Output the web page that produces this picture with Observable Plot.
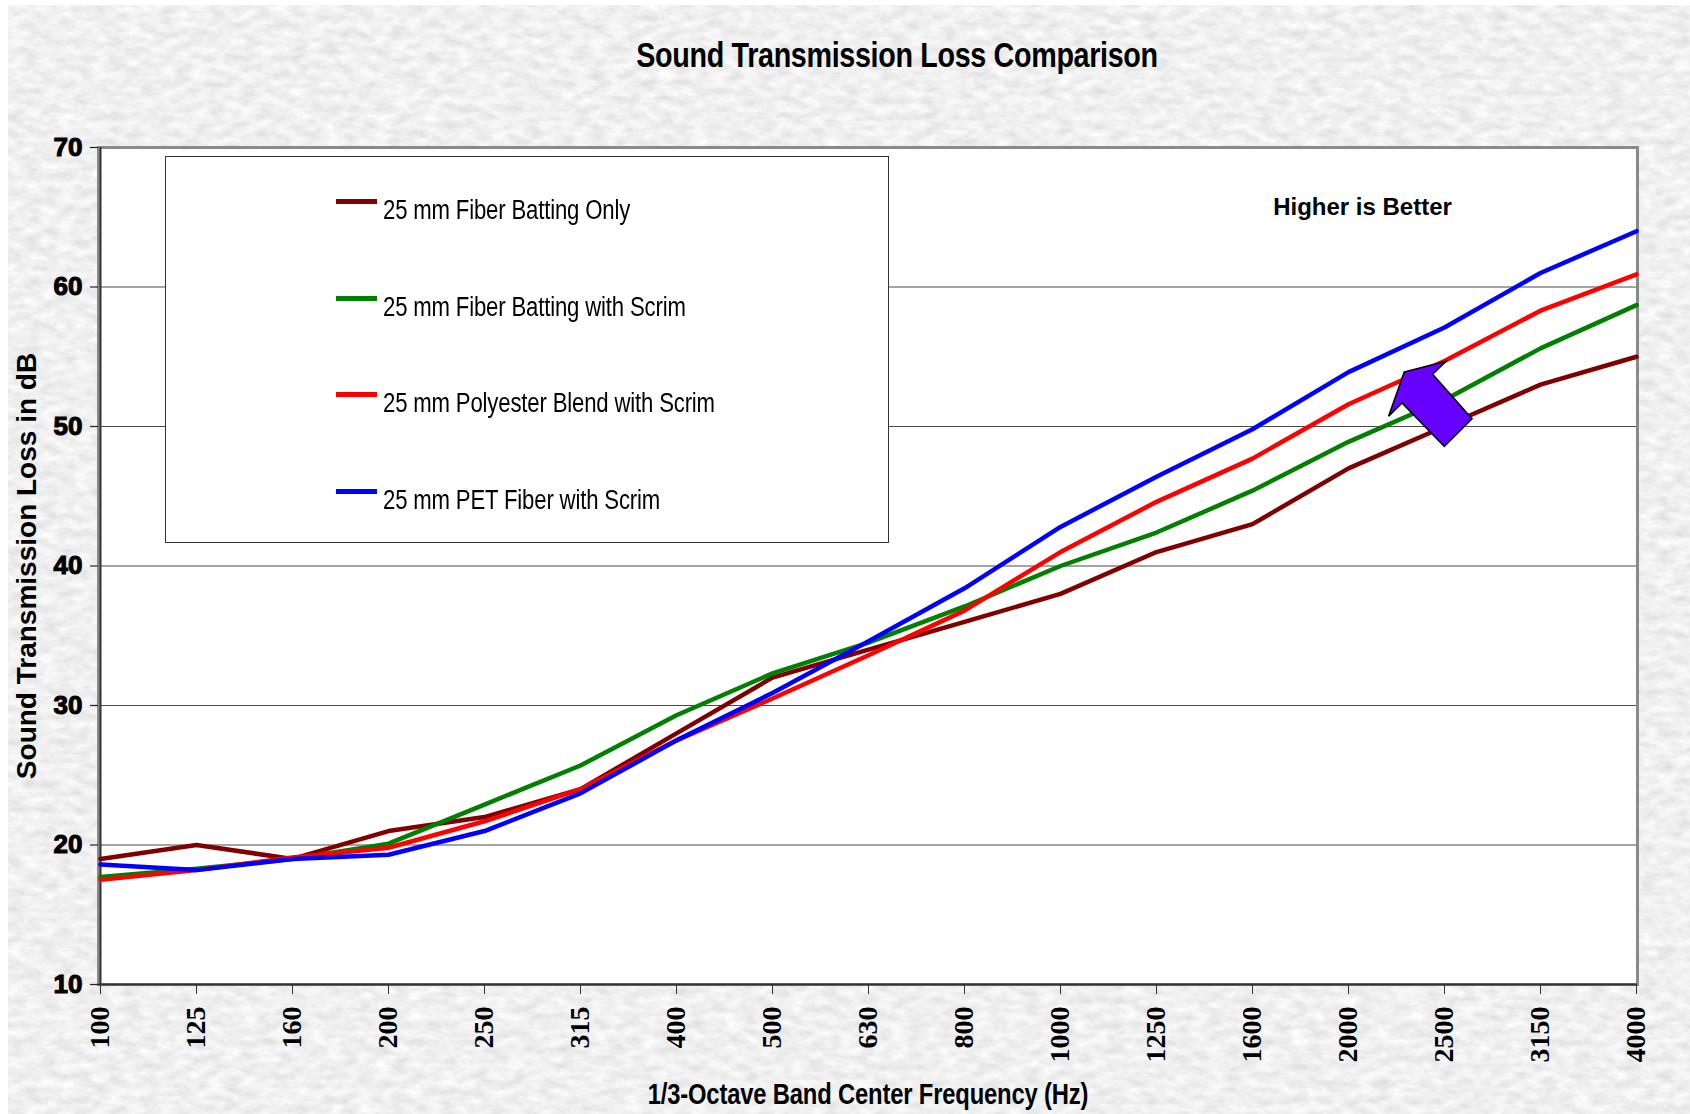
<!DOCTYPE html>
<html>
<head>
<meta charset="utf-8">
<script src="https://cdn.jsdelivr.net/npm/d3@7"></script>
<script src="https://cdn.jsdelivr.net/npm/@observablehq/plot@0.6"></script>
<style>
  html, body { margin: 0; padding: 0; background: #ffffff; }
  #page { position: relative; width: 1690px; height: 1114px; overflow: hidden; background: #ffffff; }
  #bg { position: absolute; left: 8px; top: 5px; }
  #chart { position: absolute; left: 0; top: 0; }
  .abs { position: absolute; white-space: nowrap; color: #000; }
</style>
</head>
<body>
<div id="page">
  <svg id="bg" width="1682" height="1109">
    <filter id="granite" x="0" y="0" width="100%" height="100%">
      <feTurbulence type="fractalNoise" baseFrequency="0.06 0.12" numOctaves="4" seed="7"/>
      <feColorMatrix type="matrix" values="0.34 0 0 0 0.70  0.34 0 0 0 0.70  0.34 0 0 0 0.70  0 0 0 0 1"/>
    </filter>
    <rect width="1682" height="1109" filter="url(#granite)"/>
  </svg>
  <div id="chart"></div>
</div>
<script>
// ---------------- data ----------------
const freqs = ["100","125","160","200","250","315","400","500","630","800","1000","1250","1600","2000","2500","3150","4000"];
const seriesNames = [
  "25 mm Fiber Batting Only",
  "25 mm Fiber Batting with Scrim",
  "25 mm Polyester Blend with Scrim",
  "25 mm PET Fiber with Scrim"
];
const battingOnly  = [19.0, 20.0, 19.0, 21.0, 22.0, 24.0, 28.0, 32.0, 34.0, 36.0, 38.0, 41.0, 43.0, 47.0, 50.0, 53.0, 55.0];
const battingScrim = [17.7, 18.3, 19.0, 20.1, 22.9, 25.7, 29.3, 32.3, 34.5, 37.1, 40.0, 42.4, 45.4, 48.9, 51.9, 55.6, 58.7];
const polyScrim    = [17.5, 18.2, 19.1, 19.8, 21.7, 24.0, 27.5, 30.5, 33.6, 36.8, 41.0, 44.6, 47.7, 51.6, 54.7, 58.3, 60.9];
const petScrim     = [18.6, 18.2, 19.0, 19.3, 21.0, 23.7, 27.5, 30.9, 34.6, 38.4, 42.8, 46.4, 49.8, 53.9, 57.1, 61.0, 64.0];
const seriesColors = ["#800000", "#008000", "#ff0000", "#0000ff"];
const yTicks = [10, 20, 30, 40, 50, 60, 70];
const gridValues = [20, 30, 40, 50, 60];
const titleText = "Sound Transmission Loss Comparison";
const xLabel = "1/3-Octave Band Center Frequency (Hz)";
const yLabel = "Sound Transmission Loss in dB";
const noteText = "Higher is Better";
const arrowAnchor = {freq: "2500", value: 52};

// ------------- font detection -------------
function fontAvailable(name) {
  const c = document.createElement("canvas").getContext("2d");
  const s = "25 mm Fiber Batting Only WWWmmmiii";
  c.font = "24px monospace"; const w1 = c.measureText(s).width;
  c.font = `24px "${name}", monospace`; const w2 = c.measureText(s).width;
  return Math.abs(w1 - w2) > 0.5;
}
const hasNarrow = fontAvailable("Liberation Sans Narrow");
const narrowFamily = hasNarrow ? "'Liberation Sans Narrow', 'Arial Narrow', sans-serif" : "'Liberation Sans', Arial, sans-serif";
const narrowScale = hasNarrow ? 1 : 0.82;

// ------------- build table -------------
const allSeries = [battingOnly, battingScrim, polyScrim, petScrim];
const rows = [];
allSeries.forEach((vals, s) => vals.forEach((v, i) => rows.push({series: seriesNames[s], freq: freqs[i], value: v})));

const W = 1690, H = 1114;
const mL = 98, mR = 53, mT = 147, mB = 130;

function arrowMark(index, scales) {
  const cx = scales.x(arrowAnchor.freq), cy = scales.y(arrowAnchor.value);
  const shape = [[-39.7,-26.1],[2,-36.8],[-11.4,-23.8],[28,20.5],[0.3,48.2],[-42,4.9],[-55.4,18.2]];
  const d = "M" + shape.map(([dx, dy]) => `${cx + dx},${cy + dy}`).join("L") + "Z";
  return d3.create("svg:path").attr("d", d).attr("fill", "#6600ff")
    .attr("stroke", "#000").attr("stroke-width", 1.6).attr("stroke-linejoin", "miter").node();
}

const chart = Plot.plot({
  width: W, height: H,
  marginLeft: mL, marginRight: mR, marginTop: mT, marginBottom: mB,
  style: {background: "transparent", color: "#000", overflow: "visible"},
  x: {type: "point", domain: freqs, padding: 0},
  y: {domain: [10, 70]},
  color: {domain: seriesNames, range: seriesColors},
  marks: [
    Plot.frame({fill: "#ffffff"}),
    Plot.ruleY(gridValues, {stroke: "#4a4a4a", strokeWidth: 1}),
    Plot.frame({stroke: "#8a8a8a", strokeWidth: 3}),
    Plot.ruleY([10], {stroke: "#333", strokeWidth: 2}),
    Plot.ruleX([freqs[0]], {stroke: "#333", strokeWidth: 2}),
    Plot.axisY({ticks: yTicks, tickSize: 8, tickPadding: 8, label: null,
      fontSize: 26, fontWeight: "900", fontFamily: "'Liberation Sans', Arial, sans-serif", fill: "#000",
      stroke: "#222", strokeWidth: 1.2}),
    Plot.axisX({tickSize: 10, tickPadding: 12, tickRotate: -90, label: null,
      fontSize: 28, fontWeight: "bold", fontFamily: "'Liberation Serif', 'Times New Roman', serif", fill: "#000", stroke: "#333"}),
    Plot.text([yLabel], {frameAnchor: "left", dx: -71, rotate: -90, textAnchor: "middle", lineAnchor: "middle",
      fontSize: 28, fontWeight: "bold", fontFamily: "'Liberation Sans', Arial, sans-serif", fill: "#000", letterSpacing: "0.9px"}),
    Plot.line(rows, {x: "freq", y: "value", z: "series", stroke: "series", strokeWidth: 4.5, strokeLinejoin: "miter"}),
    Plot.text([noteText], {frameAnchor: "top-right", dx: -275, dy: 60, textAnchor: "middle", lineAnchor: "middle",
      fontSize: 24, fontWeight: "bold", fontFamily: "'Liberation Sans', Arial, sans-serif", fill: "#000", letterSpacing: "-0.5px"}),
    arrowMark
  ]
});
document.getElementById("chart").appendChild(chart);
// heavier y tick labels (Arial Black look)
d3.select(chart).selectAll('[aria-label="y-axis tick label"] text')
  .attr("stroke", "#000").attr("stroke-width", 1.1).attr("paint-order", "stroke");

// ------------- HTML overlays: title, legend, x label -------------
const page = document.getElementById("page");
function addText(txt, cx, cy, size, weight, anchor) {
  const el = document.createElement("div");
  el.className = "abs";
  el.textContent = txt;
  el.style.fontFamily = narrowFamily;
  el.style.fontSize = size + "px";
  el.style.fontWeight = weight;
  el.style.lineHeight = "1";
  el.style.top = (cy - size / 2) + "px";
  el.style.left = cx + "px";
  if (anchor === "middle") {
    el.style.transform = `translateX(-50%) scaleX(${narrowScale})`;
    el.style.transformOrigin = "center";
  } else {
    el.style.transform = `scaleX(${narrowScale})`;
    el.style.transformOrigin = "left center";
  }
  page.appendChild(el);
  return el;
}
const tEl = addText(titleText, 897, 54, 35, "bold", "middle");
tEl.style.letterSpacing = "-0.4px";
const xEl = addText(xLabel, 868, 1094, 29, "bold", "middle");
xEl.style.letterSpacing = "-0.2px";

// legend box
const box = document.createElement("div");
box.className = "abs";
Object.assign(box.style, {left: "165px", top: "156px", width: "722px", height: "385px",
  border: "1px solid #333", background: "#ffffff"});
page.appendChild(box);
const rowY = [205, 302, 398, 495];
seriesNames.forEach((name, i) => {
  const sw = document.createElement("div");
  sw.className = "abs";
  Object.assign(sw.style, {left: "336px", top: (rowY[i] - 6) + "px", width: "41px", height: "5px", background: seriesColors[i]});
  page.appendChild(sw);
  const t = addText(name, 383, rowY[i] + 5, 27, "normal", "start");
  t.style.letterSpacing = "-0.2px";
});
</script>
</body>
</html>
